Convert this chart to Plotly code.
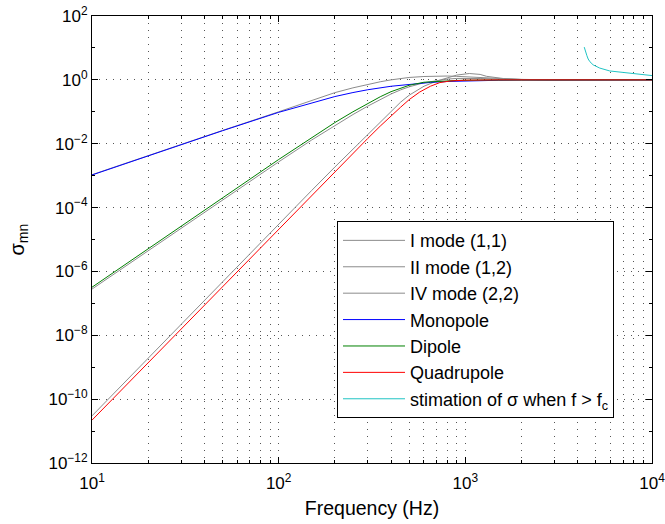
import plotly.graph_objects as go

# ---------------- data ----------------
f_mono = [10, 20, 50, 100, 150, 200, 250, 300, 400, 500, 650, 800, 1000, 1500, 2000, 3000, 10000]
s_mono = [1.05e-3, 4.2e-3, 2.55e-2, 9.6e-2, 0.19, 0.30, 0.40, 0.49, 0.63, 0.73, 0.83, 0.89, 0.93, 0.97, 0.985, 0.995, 1.0]

f_m11 = [10, 20, 50, 100, 150, 200, 250, 300, 350, 400, 450, 500, 600, 700, 800, 900, 1000, 1350, 2000, 3000, 10000]
s_m11 = [1.07e-3, 4.3e-3, 2.6e-2, 0.1, 0.224, 0.398, 0.562, 0.724, 0.871, 1.0, 1.109, 1.189, 1.274, 1.318, 1.318, 1.288, 1.245, 1.109, 1.023, 1.0, 1.0]

f_dip = [10, 20, 50, 100, 150, 200, 250, 300, 350, 400, 450, 500, 600, 730, 900, 1200, 2000, 10000]
s_dip = [3.2e-7, 5.0e-6, 2.0e-4, 3.2e-3, 1.57e-2, 4.6e-2, 0.1, 0.18, 0.295, 0.427, 0.55, 0.676, 0.841, 0.918, 0.959, 0.986, 1.0, 1.0]

f_m12 = [10, 20, 50, 100, 150, 200, 250, 300, 350, 400, 450, 500, 600, 700, 800, 900, 1000, 1200, 1600, 2500, 10000]
s_m12 = [2.8e-7, 4.5e-6, 1.75e-4, 2.7e-3, 1.3e-2, 3.7e-2, 8.2e-2, 0.15, 0.245, 0.361, 0.485, 0.605, 0.811, 0.96, 1.057, 1.107, 1.125, 1.104, 1.047, 1.01, 1.0]

f_quad = [10, 20, 50, 100, 150, 200, 250, 300, 350, 400, 450, 500, 570, 650, 730, 830, 1000, 1500, 10000]
s_quad = [2.2e-11, 1.4e-9, 3.4e-7, 2.1e-5, 2.4e-4, 1.32e-3, 4.98e-3, 1.46e-2, 3.56e-2, 7.5e-2, 0.139, 0.24, 0.417, 0.631, 0.822, 0.923, 0.977, 1.0, 1.0]

f_m22 = [10, 20, 50, 100, 150, 200, 250, 300, 350, 400, 450, 500, 600, 700, 800, 900, 1050, 1200, 1300, 1600, 2000, 3000, 10000]
s_m22 = [3.0e-11, 1.95e-9, 4.7e-7, 3.0e-5, 3.4e-4, 1.86e-3, 6.8e-3, 1.95e-2, 4.8e-2, 0.105, 0.2, 0.33, 0.63, 0.91, 1.17, 1.41, 1.58, 1.48, 1.29, 1.1, 1.035, 1.0, 1.0]

f_est = [4335, 4380, 4430, 4480, 4550, 4650, 4840, 5250, 5940, 7010, 8270, 10000]
s_est = [10.6, 8.3, 6.9, 5.7, 4.5, 3.7, 2.95, 2.34, 1.9, 1.7, 1.55, 1.36]

names = ["I mode (1,1)", "II mode (1,2)", "IV mode (2,2)", "Monopole", "Dipole", "Quadrupole",
         "stimation of σ when f > f<sub>c</sub>"]

x_title = "Frequency (Hz)"
y_title = "σ<sub>mn</sub>"

x_tickvals = [10, 100, 1000, 10000]
x_ticktext = ["10<sup>1</sup>", "10<sup>2</sup>", "10<sup>3</sup>", "10<sup>4</sup>"]
y_tickvals = [1e-12, 1e-10, 1e-8, 1e-6, 1e-4, 1e-2, 1e0, 1e2]
y_ticktext = ["10<sup>−12</sup>", "10<sup>−10</sup>", "10<sup>−8</sup>", "10<sup>−6</sup>",
              "10<sup>−4</sup>", "10<sup>−2</sup>", "10<sup>0</sup>", "10<sup>2</sup>"]
y_minorvals = [1e-11, 1e-9, 1e-7, 1e-5, 1e-3, 1e-1, 1e1]

# ---------------- figure ----------------
GREY = "#8c8c8c"
series = [
    (f_m11, s_m11, GREY),
    (f_m12, s_m12, GREY),
    (f_m22, s_m22, GREY),
    (f_mono, s_mono, "#0000ff"),
    (f_dip, s_dip, "#008000"),
    (f_quad, s_quad, "#ff0000"),
    (f_est, s_est, "#20c4c4"),
]

fig = go.Figure()
for (fx, sy, col), nm in zip(series, names):
    fig.add_trace(go.Scatter(x=fx, y=sy, mode="lines", name=nm,
                             line=dict(color=col, width=1)))

FONT = "Liberation Sans, Arial, sans-serif"
GRID = dict(gridcolor="#555555", gridwidth=1, griddash="1px,6px")

fig.update_layout(
    width=665, height=524,
    margin=dict(l=92, r=13, t=16, b=61, autoexpand=False),
    paper_bgcolor="white", plot_bgcolor="white",
    font=dict(family=FONT, size=17, color="black"),
    showlegend=True,
    legend=dict(x=0.4375, y=0.541, xanchor="left", yanchor="top",
                bgcolor="white", bordercolor="black", borderwidth=1,
                font=dict(family=FONT, size=18, color="black"), traceorder="normal",
                itemwidth=62),
    xaxis=dict(type="log", range=[1, 4], tickvals=x_tickvals, ticktext=x_ticktext,
               ticks="inside", ticklen=6, tickcolor="black", ticklabelstandoff=5,
               ticklabeloverflow="allow", automargin=False,
               showline=True, linecolor="black", linewidth=1, mirror="allticks",
               showgrid=True, **GRID, zeroline=False,
               minor=dict(dtick="D1", ticks="inside", ticklen=3, tickcolor="black",
                          showgrid=True, **GRID),
               title=dict(text=x_title, standoff=8,
                          font=dict(family=FONT, size=19.5, color="black"))),
    yaxis=dict(type="log", range=[-12, 2], tickvals=y_tickvals, ticktext=y_ticktext,
               ticks="inside", ticklen=6, tickcolor="black",
               ticklabeloverflow="allow", automargin=False,
               showline=True, linecolor="black", linewidth=1, mirror="allticks",
               showgrid=True, **GRID, zeroline=False,
               minor=dict(tickmode="array", tickvals=y_minorvals, ticks="inside",
                          ticklen=3, tickcolor="black", showgrid=False)),
    annotations=[dict(text=y_title, xref="paper", yref="paper",
                      x=-0.1321, y=0.5, xanchor="center", yanchor="middle",
                      textangle=-90, showarrow=False,
                      font=dict(family=FONT, size=20, color="black"))],
)

fig.write_html("out.html")
